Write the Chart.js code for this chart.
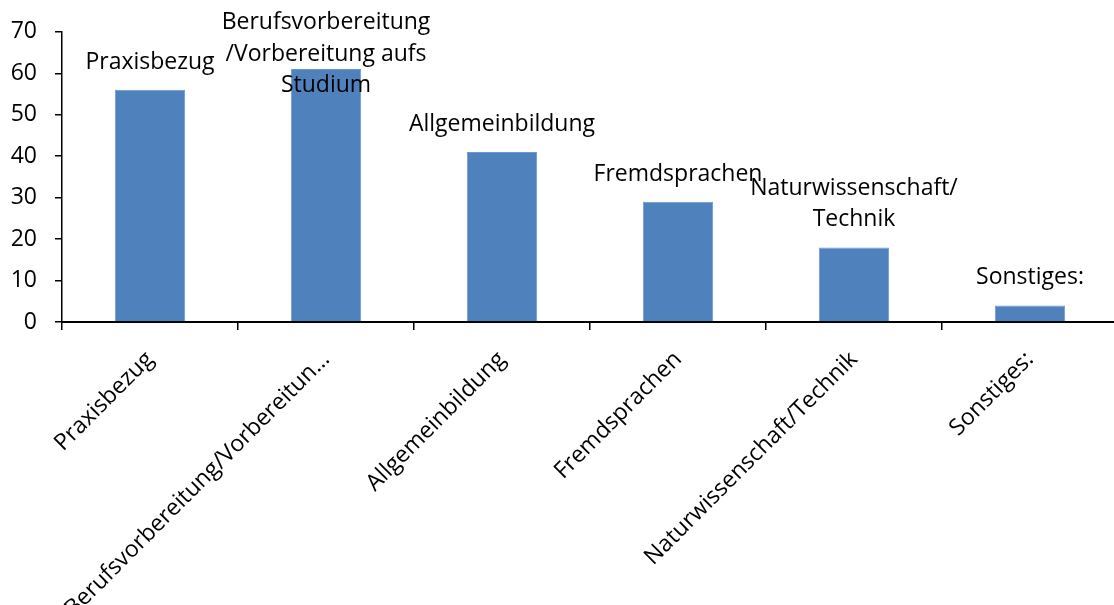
<!DOCTYPE html>
<html>
<head>
<meta charset="utf-8">
<script src="https://cdn.jsdelivr.net/npm/chart.js@4/dist/chart.umd.min.js"></script>
<style>
  html, body { margin: 0; padding: 0; background: #fff; overflow: hidden; }
  #wrap { width: 1118px; height: 605px; position: relative; }
</style>
</head>
<body>
<div id="wrap"><canvas id="c"></canvas></div>
<script>
// ---- data ----
const categories = ["Praxisbezug", "Berufsvorbereitung/Vorbereitung aufs Studium", "Allgemeinbildung", "Fremdsprachen", "Naturwissenschaft/Technik", "Sonstiges:"];
const values = [56, 61, 41, 29, 18, 4];
const tickLabels = ["Praxisbezug", "Berufsvorbereitung/Vorbereitun…", "Allgemeinbildung", "Fremdsprachen", "Naturwissenschaft/Technik", "Sonstiges:"];
const barLabelLines = [
  ["Praxisbezug"],
  ["Berufsvorbereitung", "/Vorbereitung aufs", "Studium"],
  ["Allgemeinbildung"],
  ["Fremdsprachen"],
  ["Naturwissenschaft/", "Technik"],
  ["Sonstiges:"]
];
const yTicks = [0, 10, 20, 30, 40, 50, 60, 70];

const FONT = "'Open Sans', 'DejaVu Sans', sans-serif";
const FS = 23;

const barLabelPlugin = {
  id: 'barLabels',
  afterDatasetsDraw(chart) {
    const ctx = chart.ctx;
    const meta = chart.getDatasetMeta(0);
    ctx.save();
    ctx.font = FS + "px " + FONT;
    ctx.fillStyle = '#000';
    ctx.textAlign = 'center';
    ctx.textBaseline = 'alphabetic';
    const lh = 31.5;
    meta.data.forEach((bar, i) => {
      const lines = barLabelLines[i];
      const n = lines.length;
      let last = bar.y - 21;
      const minLast = 29 + (n - 1) * lh;
      if (last < minLast) last = minLast;
      lines.forEach((t, k) => {
        ctx.fillText(t, bar.x, last - (n - 1 - k) * lh);
      });
    });
    ctx.restore();
  }
};

new Chart(document.getElementById('c'), {
  type: 'bar',
  data: {
    labels: tickLabels,
    datasets: [{
      label: 'Anteil',
      data: values,
      backgroundColor: '#4F81BD',
      borderColor: '#6E98CC',
      borderWidth: 1,
      categoryPercentage: 1.0,
      barPercentage: 0.4
    }]
  },
  options: {
    responsive: true,
    maintainAspectRatio: false,
    animation: false,
    layout: { padding: { top: 29, left: 0, right: 0, bottom: 0 } },
    plugins: { legend: { display: false }, tooltip: { enabled: false } },
    scales: {
      x: {
        afterFit(scale) { scale.height = 283; },
        grid: { display: true, drawOnChartArea: false, drawTicks: true, tickLength: 8, color: '#000', lineWidth: 1.5, offset: true },
        border: { display: true, color: '#000', width: 2 },
        ticks: { autoSkip: false, maxRotation: 45, minRotation: 45, padding: 16, color: '#000', font: { family: FONT, size: FS } }
      },
      y: {
        min: 0, max: 70,
        afterFit(scale) { scale.width = 62; },
        afterBuildTicks(scale) { scale.ticks = yTicks.map(v => ({ value: v })); },
        grid: { display: true, drawOnChartArea: false, drawTicks: true, tickLength: 7, color: '#000', lineWidth: 1.5 },
        border: { display: true, color: '#000', width: 1.5 },
        ticks: { padding: 18, color: '#000', font: { family: FONT, size: FS } }
      }
    }
  },
  plugins: [barLabelPlugin]
});
</script>
</body>
</html>
